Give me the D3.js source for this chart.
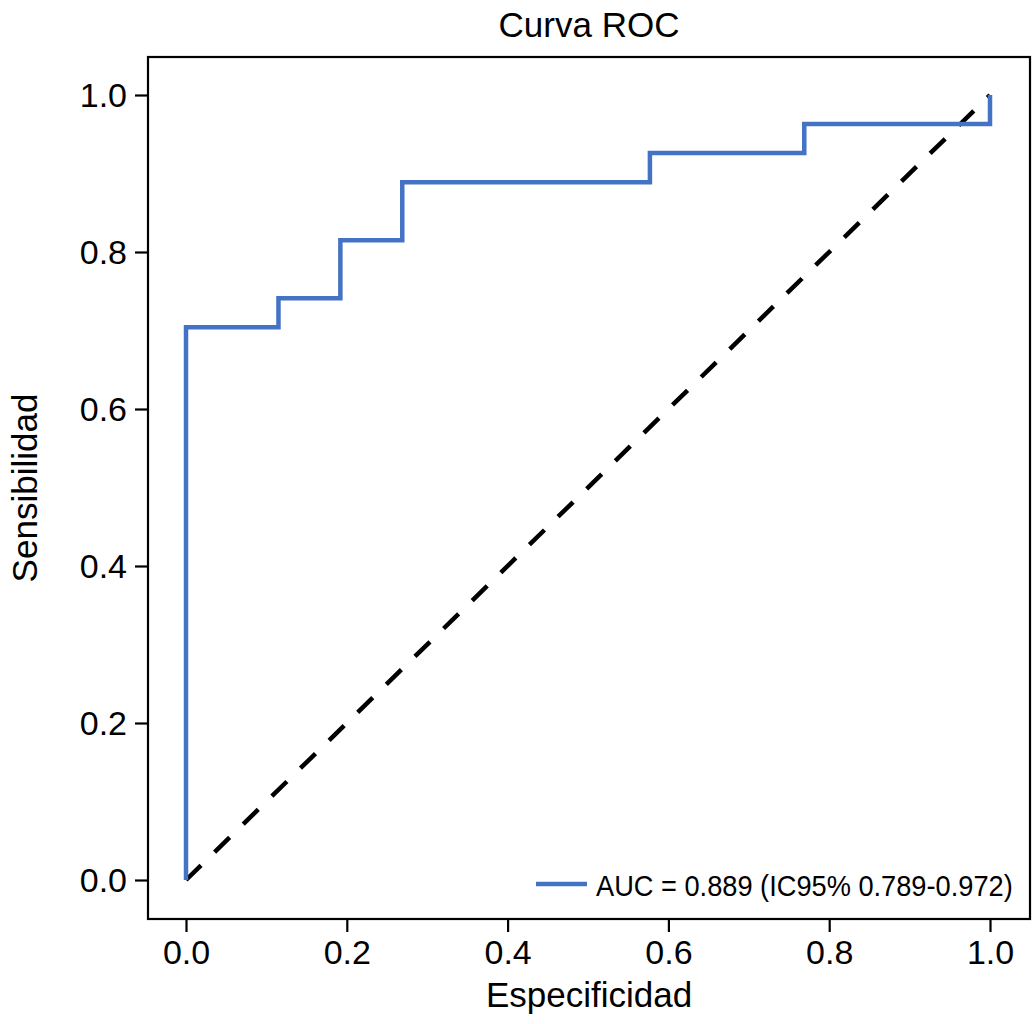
<!DOCTYPE html>
<html>
<head>
<meta charset="utf-8">
<script src="https://cdn.jsdelivr.net/npm/d3@7"></script>
<style>
  body { margin: 0; background: #fff; }
  svg text { font-family: "Liberation Sans", Arial, Helvetica, sans-serif; fill: #000; }
</style>
</head>
<body>
<div id="chart"></div>
<script>
// ROC steps (x = 1 - especificidad, y = sensibilidad)
var rocX = [0, 0, 0.115, 0.115, 0.192, 0.192, 0.269, 0.269, 0.577, 0.577, 0.769, 0.769, 1.0, 1.0];
var rocY = [0, 0.704, 0.704, 0.741, 0.741, 0.815, 0.815, 0.889, 0.889, 0.926, 0.926, 0.963, 0.963, 1.0];
var diagX = [0, 1];
var diagY = [0, 1];
var tickVals = [0, 0.2, 0.4, 0.6, 0.8, 1.0];
var legendText = "AUC = 0.889 (IC95% 0.789-0.972)";

var W = 1034, H = 1024;
var box = {left: 148, right: 1030, top: 57, bottom: 919};

var x = d3.scaleLinear().domain([0, 1]).range([186, 990]);
var y = d3.scaleLinear().domain([0, 1]).range([880, 95]);

var svg = d3.select("#chart").append("svg")
    .attr("width", W)
    .attr("height", H);

var line = d3.line()
    .x(function(d) { return x(d[0]); })
    .y(function(d) { return y(d[1]); });

// diagonal reference
svg.append("path")
    .datum(d3.zip(diagX, diagY))
    .attr("d", line)
    .attr("fill", "none")
    .attr("stroke", "#000")
    .attr("stroke-width", 4.5)
    .attr("stroke-dasharray", "21,19");

// ROC curve
svg.append("path")
    .datum(d3.zip(rocX, rocY))
    .attr("d", line)
    .attr("fill", "none")
    .attr("stroke", "#4472C4")
    .attr("stroke-width", 4.5);

// frame
svg.append("rect")
    .attr("x", box.left)
    .attr("y", box.top)
    .attr("width", box.right - box.left)
    .attr("height", box.bottom - box.top)
    .attr("fill", "none")
    .attr("stroke", "#000")
    .attr("stroke-width", 2.2);

// axes
var fmt = d3.format(".1f");
var xAxis = svg.append("g")
    .attr("transform", "translate(0," + box.bottom + ")")
    .call(d3.axisBottom(x).tickValues(tickVals).tickFormat(fmt).tickSize(13).tickPadding(8));
var yAxis = svg.append("g")
    .attr("transform", "translate(" + box.left + ",0)")
    .call(d3.axisLeft(y).tickValues(tickVals).tickFormat(fmt).tickSize(13).tickPadding(8));

[xAxis, yAxis].forEach(function(g) {
  g.select(".domain").remove();
  g.selectAll(".tick line").attr("stroke", "#000").attr("stroke-width", 2.2);
  g.selectAll(".tick text")
      .style("font-family", "'Liberation Sans', Arial, sans-serif")
      .style("font-size", "34px")
      .attr("fill", "#000");
});
xAxis.selectAll(".tick text").attr("dy", "0.71em");
yAxis.selectAll(".tick text").attr("dy", "0.35em");

// title and labels
svg.append("text")
    .attr("x", 589).attr("y", 37)
    .attr("text-anchor", "middle")
    .style("font-size", "35px")
    .text("Curva ROC");

svg.append("text")
    .attr("x", 589).attr("y", 1007)
    .attr("text-anchor", "middle")
    .style("font-size", "35px")
    .text("Especificidad");

svg.append("text")
    .attr("transform", "translate(37,488) rotate(-90)")
    .attr("text-anchor", "middle")
    .style("font-size", "35px")
    .text("Sensibilidad");

// legend
svg.append("line")
    .attr("x1", 536).attr("x2", 587)
    .attr("y1", 884).attr("y2", 884)
    .attr("stroke", "#4472C4")
    .attr("stroke-width", 4.5);

// condensed legend text: squeeze horizontally to the width seen in the reference
var leg = svg.append("g");
var legT = leg.append("text")
    .attr("x", 0).attr("y", 0)
    .style("font-size", "29px")
    .text(legendText);
var natural = legT.node().getComputedTextLength();
leg.attr("transform", "translate(596,896) scale(" + (417 / natural) + ",1)");
</script>
</body>
</html>
